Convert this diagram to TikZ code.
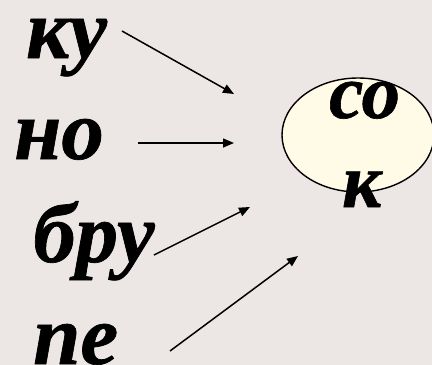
\documentclass[tikz,border=0pt]{standalone}
\usepackage{fontspec}
\setmainfont{Liberation Serif}
\newfontface\sylfont{Liberation Serif Bold Italic}[FakeBold=0.8]
\usetikzlibrary{arrows.meta,shapes.geometric}
\definecolor{bgcol}{RGB}{236,231,228}
\definecolor{ovalfill}{RGB}{255,251,230}
\tikzset{
  syl/.style={inner sep=0pt, anchor=base west, font=\fontsize{85bp}{95bp}\sylfont},
  sylsmall/.style={inner sep=0pt, anchor=base west, font=\fontsize{77bp}{85bp}\sylfont},
  arr/.style={-{Triangle[length=11bp,width=9bp]}, line width=1.5bp},
  oval/.style={ellipse, draw, line width=1.4bp, fill=ovalfill, minimum width=152bp, minimum height=114bp, inner sep=0pt}
}
\begin{document}
\begin{tikzpicture}[x=1bp,y=-1bp]
\fill[bgcol] (0,0) rectangle (432,365);
\useasboundingbox (0,0) rectangle (432,365);
\node[oval] (ov) at (358,135) {};
\node[sylsmall] (so) at (329,118) {со};
\node[sylsmall] (k) at (342,207) {к};
\node[syl] (ku) at (26,58) {ку};
\node[syl] (no) at (14,159) {но};
\node[syl] (bru) at (33,262) {бру};
\node[syl] (pe) at (33,364) {пе};
\coordinate (a1s) at (122,31);
\coordinate (a1e) at (234,94);
\coordinate (a2s) at (138,143);
\coordinate (a2e) at (234,143);
\coordinate (a3s) at (154,255);
\coordinate (a3e) at (250,207);
\coordinate (a4s) at (170,351);
\coordinate (a4e) at (298,256);
\draw[arr] (a1s) -- (a1e);
\draw[arr] (a2s) -- (a2e);
\draw[arr] (a3s) -- (a3e);
\draw[arr] (a4s) -- (a4e);
\end{tikzpicture}
\end{document}
